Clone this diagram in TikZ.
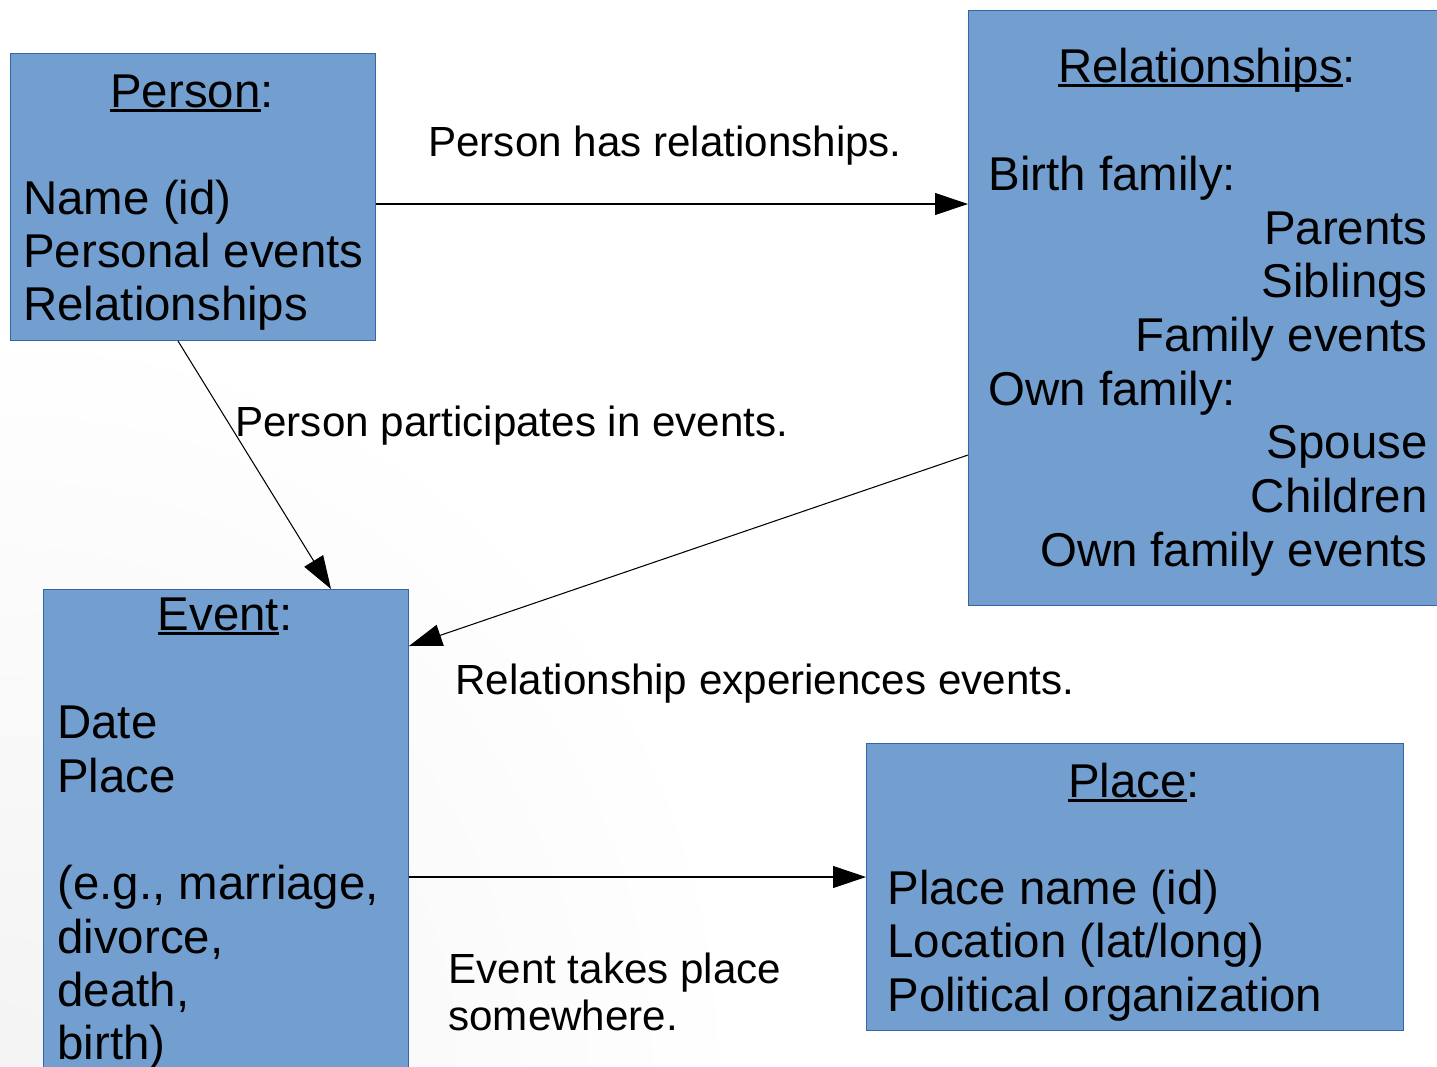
\documentclass[tikz,border=0pt]{standalone}
\usepackage{fontspec}
\setmainfont{Liberation Sans}
\usetikzlibrary{arrows.meta,calc}
\definecolor{boxblue}{HTML}{729FCF}
\definecolor{boxline}{HTML}{3465A4}
\newcommand{\undl}[1]{\setbox0=\hbox{#1}\rlap{\rule[-0.09cm]{\wd0}{0.05cm}}\box0}

\begin{document}
\begin{tikzpicture}[x=0.02cm, y=-0.02cm,
    box/.style={draw=boxline, fill=boxblue, line width=0.6pt, inner sep=0pt, anchor=north west},
    entry/.style={inner sep=0pt, font=\fontsize{27pt}{31pt}\selectfont},
    lbl/.style={inner sep=0pt, anchor=base west, font=\fontsize{24pt}{28pt}\selectfont},
    arr/.style={-{Triangle[length=0.66cm, width=0.44cm]}, line width=0.6pt}]
    \useasboundingbox (0,0) rectangle (1437,1066);
    % Background shading
    \begin{scope}
        \clip (0,0) rectangle (1437,1066);
        \shade[inner color=gray!9, outer color=white] (0,1066) circle[radius=750];
    \end{scope}
    % Draw the boxes
    \node[box, minimum width=7.3cm, minimum height=5.74cm] (person) at (10,53) {};
    \node[box, minimum width=9.6cm, minimum height=11.9cm] (rel) at (968,10) {};
    \node[box, minimum width=7.3cm, minimum height=10cm] (event) at (43,589) {};
    \node[box, minimum width=10.74cm, minimum height=5.74cm] (place) at (866,743) {};
    % Titles
    \node[entry, anchor=base] (person-t) at (192,107) {\undl{Person}:};
    \node[entry, anchor=base] (rel-t) at (1207,82) {\undl{Relationships}:};
    \node[entry, anchor=base] (event-t) at (225,630) {\undl{Event}:};
    \node[entry, anchor=base] (place-t) at (1134,797) {\undl{Place}:};
    % Box contents
    \foreach \n/\t/\y in {p1/{Name (id)}/214, p2/{Personal events}/267, p3/Relationships/320} {
        \node[entry, anchor=base west] (\n) at (23,\y) {\t};
    }
    \foreach \n/\t/\y in {r1/{Birth family:}/190, r5/{Own family:}/405} {
        \node[entry, anchor=base west] (\n) at (988,\y) {\t};
    }
    \foreach \n/\t/\y in {r2/Parents/244, r3/Siblings/297, r4/{Family events}/351, r6/Spouse/458, r7/Children/512, r8/{Own family events}/566} {
        \node[entry, anchor=base east] (\n) at (1428,\y) {\t};
    }
    \foreach \n/\t/\y in {e1/Date/738, e2/Place/792, e3/{(e.g., marriage,}/899, e4/{divorce,}/953, e5/{death,}/1006, e6/{birth)}/1059} {
        \node[entry, anchor=base west] (\n) at (57,\y) {\t};
    }
    \foreach \n/\t/\y in {q1/{Place name (id)}/904, q2/{Location (lat/long)}/957, q3/{Political organization}/1011} {
        \node[entry, anchor=base west] (\n) at (887,\y) {\t};
    }
    % Connectors
    \draw[arr] ($(person.north east)+(0,151)$) -- ($(rel.north west)+(0,194)$);
    \draw[arr] ($(person.south west)+(168,0)$) -- ($(event.north west)+(288,0)$);
    \draw[arr] ($(rel.north west)+(0,445)$) -- ($(event.north east)+(0,57)$);
    \draw[arr] ($(event.north east)+(0,288)$) -- ($(place.north west)+(0,134)$);
    % Connector labels
    \node[lbl] (l-has) at (428,156) {Person has relationships.};
    \node[lbl] (l-part) at (235,436) {Person participates in events.};
    \node[lbl] (l-exp) at (455,694) {Relationship experiences events.};
    \node[lbl] (l-takes) at (448,983) {Event takes place};
    \node[lbl] (l-some) at (448,1030) {somewhere.};
\end{tikzpicture}
\end{document}
